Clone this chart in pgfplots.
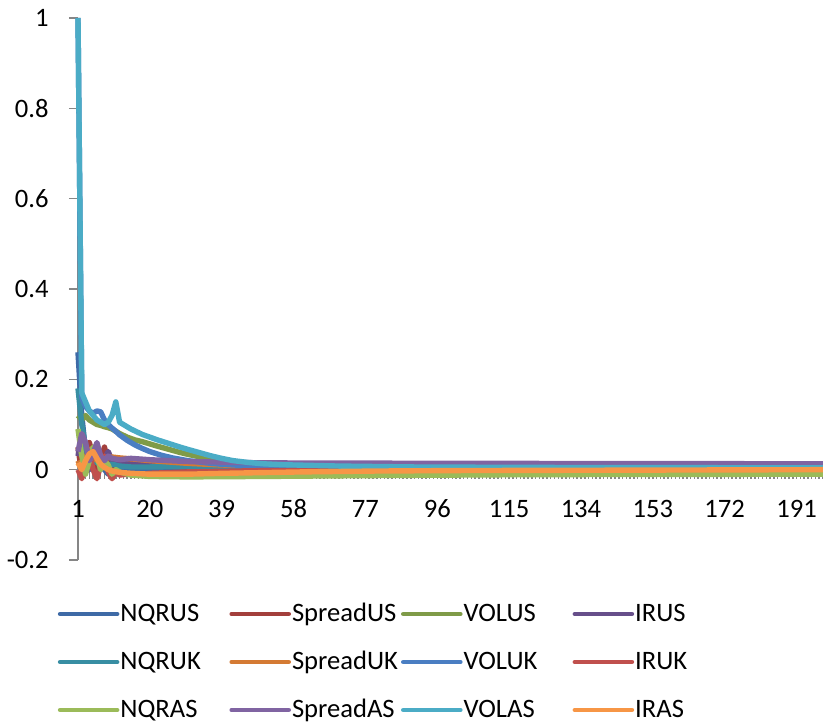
\documentclass[border=0pt]{standalone}
\usepackage{fontspec}
\setmainfont{Carlito}
\usepackage{pgfplots}
\pgfplotsset{compat=1.18}
\definecolor{axgray}{HTML}{868686}
\definecolor{cNQRUS}{HTML}{3E6AA6}
\definecolor{cSpreadUS}{HTML}{A33F3C}
\definecolor{cVOLUS}{HTML}{7F9B48}
\definecolor{cIRUS}{HTML}{674F8A}
\definecolor{cNQRUK}{HTML}{388EA3}
\definecolor{cSpreadUK}{HTML}{D47A33}
\definecolor{cVOLUK}{HTML}{4A7EC2}
\definecolor{cIRUK}{HTML}{C0504D}
\definecolor{cNQRAS}{HTML}{9BBB59}
\definecolor{cSpreadAS}{HTML}{8064A2}
\definecolor{cVOLAS}{HTML}{4BACC6}
\definecolor{cIRAS}{HTML}{F79646}
\begin{document}
\begin{tikzpicture}
\begin{axis}[name=ax, scale only axis, width=372.5bp, height=271bp,
  xmin=1, xmax=198, ymin=-0.2, ymax=1, clip=false,
  axis x line*=middle, axis y line*=left,
  hide obscured x ticks=false, hide obscured y ticks=false,
  axis line style={draw=axgray, line width=0.75bp},
  every tick/.style={draw=axgray, line width=0.75bp},
  tick align=outside,
  major tick length=4.5bp, minor tick length=4.5bp,
  xtick={1,20,39,58,77,96,115,134,153,172,191},
  xticklabels={1,20,39,58,77,96,115,134,153,172,191},
  minor xtick={1,2,...,198},
  ytick=\empty,
  extra y ticks={-0.2,0,0.2,0.4,0.6,0.8,1},
  extra y tick labels={-0.2,0,0.2,0.4,0.6,0.8,1},
  extra y tick style={major tick length=4.5bp, yticklabel style={anchor=east, inner sep=0pt, xshift=-10bp}},
  xticklabel style={anchor=center, inner sep=0pt, yshift=-15bp},
  tick label style={font=\fontsize{13.3bp}{15bp}\selectfont, text=black},
  every axis plot/.append style={line width=2.7bp, line join=round, mark=none},
  legend columns=4,
  legend style={draw=none, fill=none, inner sep=0pt, outer sep=0pt,
    at={(axis description cs:-0.0271,-0.05535)}, anchor=north west,
    row sep=0pt, column sep=0pt,
    nodes={inner xsep=0.5bp, inner ysep=0pt, minimum height=24bp, text width=54bp, align=left,
      font=\fontsize{13.3bp}{15bp}\selectfont}},
  legend image code/.code={\draw[#1, line width=2.3bp, line cap=round] (0bp,0bp) -- (28.5bp,0bp);},
]
\addplot[cNQRUS] coordinates {(1,0.26)(2,0.12)(3,0.04)(4,0.0)(5,0.02)(6,-0.01)(7,0.01)(8,0.0)(9,-0.01)(10,0.005)(12,0.0)(15,-0.005)(20,-0.003)(30,0.0)(50,0.002)(100,0.003)(198,0.003)};
\addlegendentry{NQRUS}
\addplot[cSpreadUS] coordinates {(1,0.05)(2,-0.01)(3,0.02)(4,0.06)(5,0.03)(6,-0.015)(7,0.02)(8,0.05)(9,0.015)(10,-0.015)(11,0.01)(12,0.025)(13,0.02)(15,0.02)(20,0.012)(30,0.006)(50,0.003)(100,0.002)(198,0.002)};
\addlegendentry{SpreadUS}
\addplot[cVOLUS] coordinates {(1,0.12)(2,0.11)(3,0.12)(4,0.11)(5,0.105)(6,0.1)(7,0.098)(8,0.095)(9,0.093)(10,0.09)(12,0.08)(14,0.072)(16,0.066)(18,0.062)(20,0.057)(22,0.052)(25,0.045)(28,0.038)(30,0.034)(34,0.027)(39,0.02)(45,0.014)(50,0.01)(60,0.006)(80,0.003)(120,0.002)(198,0.002)};
\addlegendentry{VOLUS}
\addplot[cIRUS] coordinates {(1,0.03)(2,0.075)(3,0.05)(4,0.0)(5,0.02)(6,0.045)(7,0.01)(8,0.025)(9,0.04)(10,0.02)(12,0.015)(15,0.012)(20,0.012)(30,0.012)(50,0.012)(100,0.012)(198,0.011)};
\addlegendentry{IRUS}
\addplot[cNQRUK] coordinates {(1,0.18)(2,0.1)(3,0.05)(4,0.02)(5,0.04)(6,0.015)(7,0.025)(8,0.01)(10,0.012)(12,0.008)(15,0.006)(20,0.006)(30,0.007)(50,0.006)(100,0.005)(198,0.004)};
\addlegendentry{NQRUK}
\addplot[cSpreadUK] coordinates {(1,0.02)(2,0.0)(3,0.025)(4,0.045)(5,0.035)(6,0.02)(7,0.03)(8,0.025)(10,0.028)(12,0.026)(15,0.024)(20,0.02)(25,0.017)(30,0.014)(40,0.01)(50,0.008)(80,0.006)(198,0.005)};
\addlegendentry{SpreadUK}
\addplot[cVOLUK] coordinates {(1,1.0)(2,0.16)(3,0.14)(4,0.13)(5,0.125)(6,0.13)(7,0.128)(8,0.11)(9,0.1)(10,0.092)(11,0.085)(12,0.077)(14,0.065)(16,0.055)(18,0.047)(20,0.04)(23,0.032)(26,0.026)(30,0.02)(35,0.015)(39,0.012)(45,0.009)(50,0.007)(70,0.005)(100,0.004)(198,0.003)};
\addlegendentry{VOLUK}
\addplot[cIRUK] coordinates {(1,0.0)(2,-0.02)(3,0.015)(4,0.035)(5,0.0)(6,-0.02)(7,0.01)(8,0.03)(9,-0.005)(10,-0.02)(11,-0.005)(12,-0.012)(14,-0.01)(17,-0.012)(20,-0.008)(30,-0.005)(50,-0.002)(100,0.0)(198,0.0)};
\addlegendentry{IRUK}
\addplot[cNQRAS] coordinates {(1,0.09)(2,0.03)(3,-0.01)(4,0.02)(5,0.05)(6,0.03)(7,0.0)(8,0.02)(9,0.01)(10,-0.01)(11,0.0)(12,-0.005)(15,-0.012)(20,-0.015)(30,-0.016)(50,-0.015)(80,-0.013)(120,-0.011)(198,-0.01)};
\addlegendentry{NQRAS}
\addplot[cSpreadAS] coordinates {(1,0.04)(2,0.08)(3,0.06)(4,0.02)(5,0.035)(6,0.06)(7,0.03)(8,0.02)(9,0.03)(10,0.025)(12,0.022)(15,0.025)(20,0.022)(30,0.018)(50,0.015)(100,0.014)(198,0.013)};
\addlegendentry{SpreadAS}
\addplot[cVOLAS] coordinates {(1,1.0)(2,0.17)(3,0.15)(4,0.13)(5,0.12)(6,0.11)(7,0.105)(8,0.1)(9,0.105)(10,0.12)(11,0.15)(12,0.105)(13,0.1)(14,0.095)(15,0.09)(16,0.086)(18,0.078)(20,0.072)(22,0.066)(25,0.058)(28,0.05)(30,0.045)(33,0.038)(36,0.031)(39,0.025)(42,0.02)(46,0.016)(50,0.013)(55,0.011)(60,0.01)(70,0.008)(90,0.006)(120,0.005)(198,0.004)};
\addlegendentry{VOLAS}
\addplot[cIRAS] coordinates {(1,0.015)(2,0.0)(3,0.02)(4,0.035)(5,0.04)(6,0.025)(7,0.012)(8,0.005)(9,0.0)(10,-0.003)(12,-0.006)(15,-0.008)(20,-0.01)(30,-0.01)(40,-0.008)(60,-0.005)(80,-0.003)(100,-0.002)(198,0.0)};
\addlegendentry{IRAS}
\end{axis}
\pgfresetboundingbox
\path[use as bounding box] ([shift={(-39bp,-82bp)}]ax.south west) rectangle ++(411.5bp,362bp);
\end{tikzpicture}
\end{document}
